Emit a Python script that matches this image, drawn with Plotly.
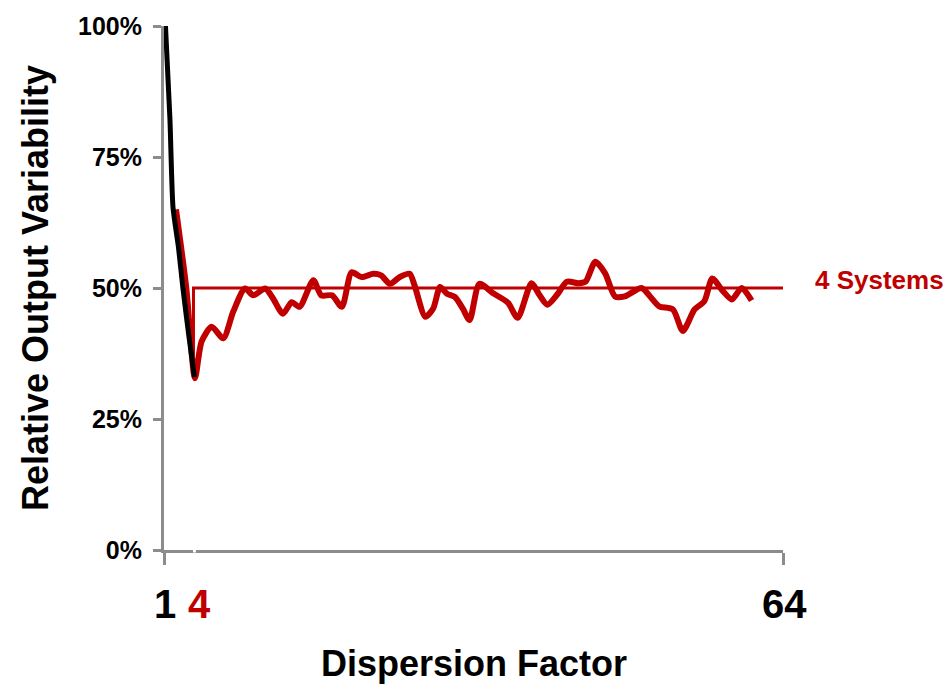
import plotly.graph_objects as go

# ---- data ----
black_x = [1.15, 1.6, 1.92, 2.47, 2.93, 3.54, 4.1]
black_y = [1.00, 0.824, 0.653, 0.578, 0.499, 0.407, 0.33]

red_x = [2.22, 3.27, 4.15, 4.83, 5.85, 7.03, 8.05, 9.24, 10.1, 11.3, 12.1, 13.1, 14.0, 14.8,
         16.2, 17.0, 18.1, 19.1, 20.1, 21.1, 22.3, 23.1, 24.0, 25.0, 26.0, 26.5, 27.6, 28.4,
         29.1, 29.8, 30.6, 31.4, 32.1, 33.1, 34.5, 36.0, 37.0, 38.4, 39.2, 40.0, 41.0, 42.0,
         43.2, 43.9, 44.9, 45.9, 46.9, 47.9, 49.6, 50.6, 51.4, 52.8, 53.8, 55.0, 56.0, 56.8,
         57.8, 58.8, 59.8, 60.8]
red_y = [0.65, 0.50, 0.328, 0.398, 0.426, 0.404, 0.455, 0.499, 0.486, 0.499, 0.480, 0.451,
         0.473, 0.464, 0.515, 0.486, 0.486, 0.464, 0.530, 0.521, 0.527, 0.524, 0.508, 0.521,
         0.527, 0.505, 0.445, 0.461, 0.502, 0.489, 0.483, 0.461, 0.439, 0.508, 0.490, 0.472,
         0.443, 0.509, 0.487, 0.468, 0.487, 0.512, 0.509, 0.512, 0.550, 0.528, 0.484, 0.484,
         0.500, 0.481, 0.465, 0.459, 0.418, 0.459, 0.475, 0.518, 0.496, 0.478, 0.500, 0.476]

systems_x = [4, 4, 64]
systems_y = [0.33, 0.50, 0.50]
systems_label = "4 Systems"

y_ticks = [0, 0.25, 0.5, 0.75, 1.0]
x_tick_vals = [1, 4, 64]
x_tick_text = ["1", "4", "64"]
x_tick_colors = ["black", "#C00000", "black"]

RED = "#C00000"
FONT = "Liberation Sans, Arial, sans-serif"

fig = go.Figure()
fig.add_trace(go.Scatter(x=systems_x, y=systems_y, mode="lines",
                         line=dict(color=RED, width=3), hoverinfo="skip"))
fig.add_trace(go.Scatter(x=red_x, y=red_y, mode="lines",
                         line=dict(color=RED, width=6, shape="spline", smoothing=0.7)))
fig.add_trace(go.Scatter(x=black_x, y=black_y, mode="lines",
                         line=dict(color="black", width=5, shape="spline", smoothing=0.6)))

fig.update_layout(
    width=951, height=688,
    margin=dict(l=164, r=168, t=22, b=138),
    paper_bgcolor="white", plot_bgcolor="white",
    showlegend=False,
    font=dict(family=FONT, color="black"),
)
fig.update_xaxes(range=[1, 64], showgrid=False, zeroline=False,
                 showline=True, linecolor="#8c8c8c", linewidth=3,
                 ticks="outside", tickvals=[1, 64], ticklen=12, tickwidth=3,
                 tickcolor="#8c8c8c", showticklabels=False)
fig.update_yaxes(range=[0, 1], showgrid=False, zeroline=False,
                 showline=True, linecolor="#8c8c8c", linewidth=3,
                 ticks="outside", tickvals=y_ticks, ticklen=8, tickwidth=3,
                 tickcolor="#8c8c8c", tickformat=".0%",
                 tickfont=dict(family=FONT, size=25, color="black", weight="bold"),
                 ticklabelstandoff=6)

# gap in the x axis line
fig.add_shape(type="line", xref="x", yref="paper", x0=3.95, x1=4.25, y0=0, y1=0,
              line=dict(color="white", width=5), layer="above")

annotations = []
for v, t, c in zip(x_tick_vals, x_tick_text, x_tick_colors):
    annotations.append(dict(x=v, y=-0.104, xref="x", yref="paper", text=f"<b>{t}</b>",
                            showarrow=False, xshift=6 if t == "4" else 1,
                            font=dict(family=FONT, size=40, color=c),
                            xanchor="center", yanchor="middle"))
annotations.append(dict(x=64, y=0.5, xref="x", yref="y", text=f"<b>{systems_label}</b>",
                        showarrow=False, xanchor="left", yanchor="bottom", xshift=30, yshift=-9,
                        font=dict(family=FONT, size=26, color=RED)))
annotations.append(dict(x=0.5, y=-0.217, xref="paper", yref="paper",
                        text="<b>Dispersion Factor</b>", showarrow=False,
                        xanchor="center", yanchor="middle",
                        font=dict(family=FONT, size=36, color="black")))
annotations.append(dict(x=(35 - 164) / (951 - 164 - 168), y=0.5, xref="paper", yref="paper",
                        text="<b>Relative Output Variability</b>", showarrow=False,
                        textangle=-90, xanchor="center", yanchor="middle",
                        font=dict(family=FONT, size=36, color="black")))
fig.update_layout(annotations=annotations)

fig.write_html("out.html", config={"displayModeBar": False},
               post_script="document.body.style.margin='0';")
